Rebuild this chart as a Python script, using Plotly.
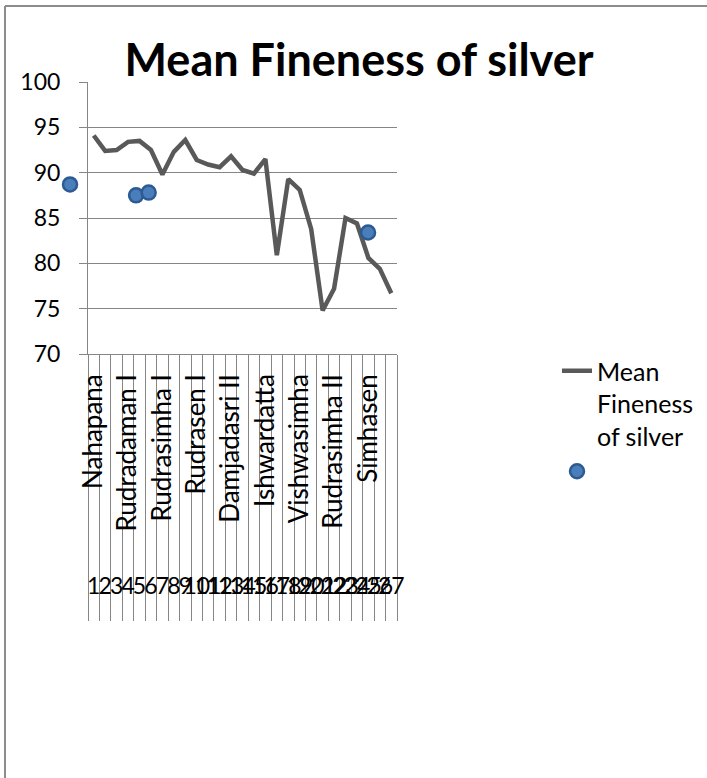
import plotly.graph_objects as go

# ---- data ----
positions = list(range(1, 28))
position_labels = [str(i) for i in positions]
fineness = [94.1, 92.4, 92.5, 93.4, 93.5, 92.5, 89.8, 92.3, 93.6, 91.4,
            90.9, 90.6, 91.8, 90.3, 89.9, 91.5, 80.9, 89.3, 88.1, 83.8,
            74.8, 77.2, 85.0, 84.4, 80.6, 79.4, 76.7]
ruler_positions = [1, 4, 7, 10, 13, 16, 19, 22, 25]
ruler_names = ["Nahapana", "Rudradaman I", "Rudrasimha I", "Rudrasen I",
               "Damjadasri II", "Ishwardatta", "Vishwasimha", "Rudrasimha II",
               "Simhasen"]
dots_x = [-1.07, 4.7, 5.8, 24.97]
dots_y = [88.7, 87.5, 87.8, 83.4]

FONT = "Lato"
GREY = "#868686"

# layout geometry (pixels)
L, R, T, B = 40, 397, 82, 354
PW, PH = R - L, B - T
UNIT = (R - 88) / 27.0  # pixels per category


def px(xp):
    return (xp - L) / PW


def py(yp):
    return (B - yp) / PH


fig = go.Figure()
fig.add_trace(go.Scatter(
    x=positions, y=fineness, mode="lines",
    name="Mean<br>Fineness<br>of silver",
    line=dict(color="#595959", width=4.5),
    xaxis="x", yaxis="y",
))
# carrier for the ruler-name axis (no visible marks)
fig.add_trace(go.Scatter(
    x=ruler_positions, y=[None] * len(ruler_positions), mode="markers",
    showlegend=False, hoverinfo="skip", xaxis="x2", yaxis="y",
))
fig.add_trace(go.Scatter(
    x=dots_x, y=dots_y, mode="markers", name=" ",
    marker=dict(size=14, color="#4a7ebb", line=dict(color="#2c5a92", width=2.5)),
    cliponaxis=False, xaxis="x3", yaxis="y3",
))

fig.update_layout(
    width=707, height=778,
    margin=dict(l=L, r=707 - R, t=T, b=778 - B, autoexpand=False),
    paper_bgcolor="white", plot_bgcolor="rgba(0,0,0,0)",
    font=dict(family=FONT, color="#000000", size=23),
    title=dict(text="<b>Mean Fineness of silver</b>", x=359/707, xanchor="center",
               xref="container", y=1 - 60/778, yanchor="middle", yref="container",
               font=dict(family=FONT, size=45, color="#000000")),
    xaxis=dict(
        domain=[px(88), 1],
        range=[0.5, 27.5], tickmode="array", tickvals=positions, ticktext=position_labels,
        tickangle=0, ticks="", showgrid=False, zeroline=False,
        showline=True, linecolor=GREY, linewidth=1,
        ticklabelstandoff=211, automargin=False,
        tickfont=dict(size=23, family=FONT),
        minor=dict(tickmode="linear", tick0=0.5, dtick=1, ticks="outside",
                   ticklen=266, tickcolor=GREY, tickwidth=1, showgrid=False),
    ),
    xaxis2=dict(
        range=[0.5, 27.5], overlaying="x", anchor="y", side="bottom",
        tickmode="array", tickvals=ruler_positions, ticktext=ruler_names,
        tickangle=-90, ticks="", showgrid=False, zeroline=False, showline=False,
        ticklabelstandoff=14, automargin=False,
        tickfont=dict(size=26, family=FONT),
    ),
    xaxis3=dict(
        domain=[0, 1], range=[0.5 - (88 - L) / UNIT, 27.5], anchor="y3",
        visible=False, showgrid=False, zeroline=False,
    ),
    yaxis=dict(
        range=[70, 100], dtick=5, tick0=70, showgrid=True, gridcolor=GREY, gridwidth=1,
        zeroline=False, showline=True, linecolor=GREY, linewidth=1,
        ticks="outside", ticklen=8, tickcolor=GREY, automargin=False,
        ticklabelstandoff=14, tickfont=dict(size=23, family=FONT), anchor="x",
    ),
    yaxis3=dict(
        range=[70, 100], domain=[0, 1], anchor="x3", visible=False,
        showgrid=False, zeroline=False,
    ),
    legend=dict(
        x=px(557), y=py(348), xanchor="left", yanchor="top",
        xref="paper", yref="paper", valign="top",
        font=dict(size=25, family=FONT), bgcolor="rgba(0,0,0,0)",
        itemwidth=30, tracegroupgap=0,
    ),
    showlegend=True,
)

# chart frame (left and top edges)
fig.add_shape(type="line", xref="paper", yref="paper",
              x0=px(5), x1=px(5), y0=py(6), y1=py(800),
              line=dict(color="#8c8c8c", width=2))
fig.add_shape(type="line", xref="paper", yref="paper",
              x0=px(5), x1=px(720), y0=py(6), y1=py(6),
              line=dict(color="#8c8c8c", width=2))

fig.write_html("out.html")
